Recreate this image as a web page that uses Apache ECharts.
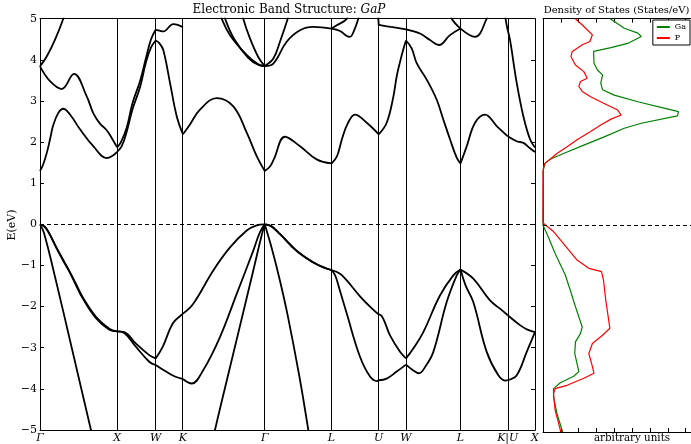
<!DOCTYPE html>
<html><head><meta charset="utf-8">
<script src="https://cdn.jsdelivr.net/npm/echarts@6/dist/echarts.min.js"></script>
<style>html,body{margin:0;padding:0;background:#fff}#c{width:691px;height:444px}</style>
</head><body><div id="c"></div>
<script>
// High-symmetry k-points (path distance, units of 2π/a) and their labels
const kPoints = [0, 1, 1.5, 1.8536, 2.9142, 3.7802, 4.3926, 4.7462, 5.4533, 6.0657, 6.4193];
const kLabels = ['Γ', 'X', 'W', 'K', 'Γ', 'L', 'U', 'W', 'L', 'K|U', 'X'];
const energyTicks = [-5, -4, -3, -2, -1, 0, 1, 2, 3, 4, 5];

// Valence bands [k, E(eV)]
const vb1 = [[0,0],[0.06,-0.05],[0.121,-0.22],[0.208,-0.54],[0.294,-0.84],[0.38,-1.13],[0.467,-1.45],[0.554,-1.77],[0.726,-2.25],[0.899,-2.54],[1,-2.6],
  [1.093,-2.62],[1.245,-2.9],[1.417,-3.18],[1.5,-3.26],
  [1.591,-2.98],[1.721,-2.41],[1.829,-2.21],[1.8536,-2.17],
  [1.988,-1.93],[2.247,-1.12],[2.464,-0.56],[2.681,-0.15],[2.8,-0.03],[2.9142,0],
  [3.0,-0.04],[3.112,-0.23],[3.329,-0.64],[3.544,-0.92],[3.674,-1.04],[3.7802,-1.11],
  [3.891,-1.2],[3.981,-1.37],[4.15,-1.75],[4.306,-2.05],[4.3926,-2.19],
  [4.431,-2.23],[4.48,-2.42],[4.539,-2.7],[4.669,-3.1],[4.7462,-3.26],
  [4.841,-3.02],[4.971,-2.62],[5.187,-1.73],[5.36,-1.24],[5.4533,-1.1],
  [5.619,-1.32],[5.836,-1.85],[5.966,-2.05],[6.0657,-2.21],
  [6.225,-2.45],[6.32,-2.56],[6.4193,-2.62]];
const vb2 = [[0,0],[0.06,-0.06],[0.121,-0.23],[0.208,-0.56],[0.294,-0.86],[0.38,-1.15],[0.467,-1.48],[0.554,-1.8],[0.726,-2.28],[0.899,-2.56],[1,-2.6],
  [1.093,-2.64],[1.245,-2.98],[1.417,-3.34],[1.5,-3.42],
  [1.634,-3.58],[1.75,-3.7],[1.8536,-3.76],
  [1.967,-3.87],[2.118,-3.54],[2.334,-2.74],[2.551,-1.69],[2.766,-0.64],[2.85,-0.2],[2.9142,0],
  [3.0,-0.05],[3.112,-0.24],[3.329,-0.65],[3.544,-0.93],[3.674,-1.05],[3.7802,-1.11],
  [3.83,-1.25],[3.891,-1.62],[3.978,-2.17],[4.15,-3.22],[4.28,-3.7],[4.371,-3.81],[4.3926,-3.79],
  [4.496,-3.75],[4.626,-3.58],[4.7462,-3.41],
  [4.82,-3.52],[4.915,-3.62],[5.0,-3.45],[5.101,-3.1],[5.274,-1.89],[5.404,-1.24],[5.4533,-1.1],
  [5.52,-1.49],[5.619,-1.89],[5.793,-3.1],[5.944,-3.67],[6.039,-3.8],[6.0657,-3.79],
  [6.182,-3.67],[6.312,-3.1],[6.4193,-2.62]];
const vbSteepGX = [[0,0],[0.05,-0.2],[0.207,-1.37],[0.4,-2.91],[0.661,-5],[0.7,-5.3]];
const vbSteepKG = [[2.24,-5.3],[2.269,-5],[2.507,-3.14],[2.766,-1.12],[2.87,-0.3],[2.9142,0]];
const vbSteepGL = [[2.9142,0],[3.014,-0.64],[3.112,-1.37],[3.214,-2.23],[3.364,-3.7],[3.48,-5],[3.51,-5.35]];

// Conduction bands [k, E(eV)]
const cb1 = [[0,1.3],[0.04,1.45],[0.09,1.75],[0.13,2.07],[0.173,2.42],[0.238,2.71],[0.302,2.81],[0.389,2.67],[0.519,2.31],[0.691,1.9],[0.865,1.61],[0.951,1.68],[1,1.76],
  [1.06,1.9],[1.124,2.25],[1.2,2.8],[1.3,3.35],[1.375,3.95],[1.44,4.3],[1.5,4.47],
  [1.55,4.4],[1.599,4.24],[1.686,3.44],[1.773,2.63],[1.8536,2.19],
  [1.945,2.43],[2.075,2.79],[2.292,3.07],[2.507,2.87],[2.681,2.23],[2.81,1.66],[2.9142,1.3],
  [2.98,1.4],[3.032,1.58],[3.177,2.13],[3.372,1.9],[3.588,1.58],[3.7802,1.48],
  [3.85,1.65],[3.92,2.1],[3.99,2.45],[4.085,2.67],[4.237,2.47],[4.3926,2.19],
  [4.496,2.47],[4.582,3.1],[4.626,3.6],[4.669,3.95],[4.711,4.25],[4.7462,4.47],
  [4.82,4.28],[4.885,3.92],[5.015,3.52],[5.145,3.03],[5.23,2.55],[5.317,2.07],[5.404,1.62],[5.4533,1.48],
  [5.534,1.9],[5.642,2.47],[5.771,2.67],[5.923,2.39],[6.0657,2.14],
  [6.182,2.02],[6.268,1.98],[6.355,1.85],[6.4193,1.76]];
const cb2 = [[0,3.84],[0.13,3.48],[0.281,3.29],[0.441,3.66],[0.606,3.11],[0.692,2.7],[0.778,2.45],[0.86,2.3],[0.93,2.1],[1,1.87],
  [1.05,2.0],[1.124,2.35],[1.2,2.95],[1.3,3.5],[1.375,4.05],[1.44,4.5],[1.5,4.73],
  [1.55,4.71],[1.599,4.69],[1.729,4.87],[1.8,4.84],[1.8536,4.79]];
const cb3 = [[0,3.84],[0.087,4.08],[0.195,4.49],[0.302,5.0],[0.35,5.3]];
const cbA1 = [[2.33,5.2],[2.356,5.0],[2.464,4.6],[2.68,4.12],[2.83,3.89],[2.9142,3.85]];
const cbA2 = [[2.38,5.2],[2.41,4.95],[2.52,4.5],[2.7,4.05],[2.84,3.87],[2.9142,3.85]];
const cbB = [[2.62,5.2],[2.636,5.0],[2.723,4.52],[2.83,4.07],[2.9142,3.85]];
const cbC1 = [[2.9142,3.85],[3.026,4.03],[3.112,4.44],[3.22,5.04],[3.24,5.2]];
const cbC2 = [[2.9142,3.85],[3.026,3.91],[3.199,4.44],[3.372,4.72],[3.544,4.8],[3.7802,4.76]];
const cbH = [[3.7802,4.76],[3.848,4.84],[3.978,5.0],[4.0,5.2]];
const cbG = [[3.7802,4.76],[3.891,4.7],[3.978,4.58],[4.02,4.56],[4.07,4.7],[4.128,5.0],[4.15,5.2]];
const cbI = [[4.375,5.2],[4.387,5.0],[4.3926,4.85],[4.55,4.8],[4.7462,4.74]];
const cbD = [[4.7462,4.74],[4.928,4.64],[5.058,4.48],[5.174,4.36],[5.317,4.6],[5.4533,4.76]];
const cbE = [[5.31,5.2],[5.339,5.0],[5.4533,4.76]];
const cbF = [[5.4533,4.76],[5.642,4.56],[5.793,5.0],[5.84,5.3]];
const cbS = [[6.02,5.3],[6.037,5.0],[6.0657,4.72],[6.095,4.49],[6.182,3.44],[6.268,2.63],[6.355,2.07],[6.4193,1.87]];

const bands = [vb1, vb2, vbSteepGX, vbSteepKG, vbSteepGL, cb1, cb2, cb3, cbA1, cbA2, cbB, cbC1, cbC2, cbH, cbG, cbI, cbD, cbE, cbF, cbS];

// Density of states [E(eV), DOS (arb. units)]
const dosGa = [[5.0,3.77],[4.77,4.56],[4.65,5.32],[4.57,5.51],[4.41,4.8],[4.3,3.81],[4.21,2.84],[3.92,2.86],[3.76,3.05],[3.64,3.34],[3.44,3.24],[3.28,3.34],[3.15,3.99],[2.99,5.32],[2.83,6.84],[2.75,7.6],[2.65,7.54],[2.47,5.51],[2.35,4.56],[2.14,3.43],[1.94,2.29],[1.74,1.15],[1.6,0.4],[1.5,0.11],[1.34,0.02],[1.3,0],[0.1,0],[0,0],
  [-0.28,0.3],[-0.68,0.68],[-1.2,1.25],[-1.57,1.53],[-1.97,1.82],[-2.46,2.2],[-2.62,2.1],[-2.82,1.82],[-3.1,1.78],[-3.54,2.01],[-3.65,1.72],[-3.81,0.97],[-3.95,0.59],[-4.15,0.59],[-4.55,0.78],[-5.0,1.1]];
const dosP = [[5.0,1.82],[4.81,2.29],[4.61,2.77],[4.45,2.63],[4.37,2.2],[4.2,1.63],[4.08,1.57],[3.88,1.82],[3.72,2.29],[3.56,2.48],[3.48,2.1],[3.36,2.01],[3.24,2.2],[3.11,2.67],[2.95,3.43],[2.79,4.19],[2.67,4.38],[2.57,3.81],[2.43,3.24],[2.27,2.67],[2.07,1.91],[1.9,1.35],[1.74,0.78],[1.6,0.4],[1.5,0.11],[1.38,0.02],[1.3,0],[0.1,0],[0.05,0.02],
  [-0.15,0.59],[-0.44,1.15],[-0.84,1.91],[-1.04,2.57],[-1.12,3.28],[-1.32,3.39],[-1.81,3.52],[-2.37,3.71],[-2.49,3.75],[-2.66,3.34],[-2.86,2.77],[-3.1,2.57],[-3.42,2.77],[-3.58,2.86],[-3.7,2.29],[-3.87,1.35],[-3.95,0.68],[-4.07,0.59],[-4.47,0.68],[-4.95,0.97],[-5.0,0.99]];

function isK(k){ return kPoints.some(p => Math.abs(p - k) < 1e-4); }
function splitBand(pts){
  const pieces = []; let cur = [pts[0]];
  for (let i = 1; i < pts.length; i++) {
    cur.push(pts[i]);
    if (isK(pts[i][0]) && i < pts.length - 1) { pieces.push(cur); cur = [pts[i]]; }
  }
  if (cur.length > 1) pieces.push(cur);
  return pieces;
}

const serif = 'DejaVu Serif';
const series = [];
bands.forEach(b => splitBand(b).forEach(piece => {
  series.push({ type: 'line', xAxisIndex: 0, yAxisIndex: 0, data: piece, smooth: 0.4,
    showSymbol: false, lineStyle: { color: '#000', width: 1.8 }, silent: true, z: 3 });
}));
// vertical k-point lines and Fermi level
series.push({ type: 'line', xAxisIndex: 0, yAxisIndex: 0, data: [], silent: true,
  markLine: { symbol: 'none', silent: true, label: { show: false }, animation: false,
    data: kPoints.slice(1, -1).map(k => ({ xAxis: k, lineStyle: { color: '#000', width: 1, type: 'solid' } }))
      .concat([{ yAxis: 0, lineStyle: { color: '#000', width: 1, type: [4, 3] } }]) } });
series.push({ name: 'Ga', type: 'line', xAxisIndex: 2, yAxisIndex: 2, data: dosGa.map(p => [p[1], p[0]]),
  showSymbol: false, lineStyle: { color: '#008000', width: 1.2 }, itemStyle: { color: '#008000' }, z: 3,
  markLine: { symbol: 'none', silent: true, label: { show: false },
    data: [{ yAxis: 0, lineStyle: { color: '#000', width: 1, type: [4, 3] } }] } });
series.push({ name: 'P', type: 'line', xAxisIndex: 2, yAxisIndex: 2, data: dosP.map(p => [p[1], p[0]]),
  showSymbol: false, lineStyle: { color: '#ff0000', width: 1.2 }, itemStyle: { color: '#ff0000' }, z: 4 });

const axLine = { show: true, onZero: false, lineStyle: { color: '#000', width: 1 } };
const option = {
  animation: false,
  grid: [
    { left: 40, right: 156, top: 18.7, bottom: 12 },
    { left: 543, right: -4, top: 18.7, bottom: 12 }
  ],
  xAxis: [
    { gridIndex: 0, type: 'value', min: 0, max: kPoints[kPoints.length - 1], position: 'bottom',
      axisLine: axLine, splitLine: { show: false }, axisTick: { show: false },
      axisLabel: { customValues: kPoints, margin: 3, color: '#000', fontFamily: serif, fontStyle: 'italic', fontSize: 11,
        formatter: v => { let i = 0, d = 1e9; kPoints.forEach((p, j) => { if (Math.abs(p - v) < d) { d = Math.abs(p - v); i = j; } }); return kLabels[i]; } } },
    { gridIndex: 0, type: 'value', min: 0, max: kPoints[kPoints.length - 1], position: 'top',
      axisLine: axLine, splitLine: { show: false }, axisTick: { show: false }, axisLabel: { show: false } },
    { gridIndex: 1, type: 'value', min: 0, max: 8.3, interval: 1, position: 'bottom',
      axisLine: axLine, splitLine: { show: false }, axisTick: { inside: true, length: 4, lineStyle: { color: '#000' } }, axisLabel: { show: false } },
    { gridIndex: 1, type: 'value', min: 0, max: 8.3, interval: 1, position: 'top',
      axisLine: axLine, splitLine: { show: false }, axisTick: { inside: true, length: 4, lineStyle: { color: '#000' } }, axisLabel: { show: false } }
  ],
  yAxis: [
    { gridIndex: 0, type: 'value', min: -5, max: 5, interval: 1, position: 'left',
      axisLine: axLine, splitLine: { show: false }, axisTick: { inside: true, length: 4, lineStyle: { color: '#000' } },
      axisLabel: { margin: 3, color: '#000', fontFamily: serif, fontSize: 11, formatter: v => (v < 0 ? '−' + Math.abs(v) : String(v)) } },
    { gridIndex: 0, type: 'value', min: -5, max: 5, interval: 1, position: 'right',
      axisLine: axLine, splitLine: { show: false }, axisTick: { inside: true, length: 4, lineStyle: { color: '#000' } }, axisLabel: { show: false } },
    { gridIndex: 1, type: 'value', min: -5, max: 5, interval: 1, position: 'left',
      axisLine: axLine, splitLine: { show: false }, axisTick: { show: false }, axisLabel: { show: false } }
  ],
  legend: { data: ['Ga', 'P'], orient: 'vertical', right: 1, top: 20, icon: 'rect', itemWidth: 13, itemHeight: 2, itemGap: 3,
    backgroundColor: '#fff', borderColor: '#000', borderWidth: 1, borderRadius: 0, padding: [3, 4, 3, 4],
    textStyle: { fontSize: 8, fontFamily: serif, color: '#000' } },
  graphic: [
    { type: 'text', x: 289, y: 10, style: { text: '{a|Electronic Band Structure: }{b|GaP}', align: 'center', verticalAlign: 'middle',
      rich: { a: { fontFamily: serif, fontSize: 12, fill: '#000' }, b: { fontFamily: serif, fontSize: 12, fontStyle: 'italic', fill: '#000' } } } },
    { type: 'text', x: 616.5, y: 10, style: { text: 'Density of States (States/eV)', align: 'center', verticalAlign: 'middle',
      fontFamily: serif, fontSize: 10, fill: '#000' } },
    { type: 'text', x: 632, y: 438, style: { text: 'arbitrary units', align: 'center', verticalAlign: 'middle',
      fontFamily: serif, fontSize: 10.3, fill: '#000' } },
    { type: 'text', x: 12, y: 225, rotation: Math.PI / 2, style: { text: 'E(eV)', align: 'center', verticalAlign: 'middle',
      fontFamily: serif, fontSize: 11, fill: '#000' } }
  ],
  series: series
};
const chart = echarts.init(document.getElementById('c'), null, { renderer: 'canvas' });
chart.setOption(option);
</script></body></html>
